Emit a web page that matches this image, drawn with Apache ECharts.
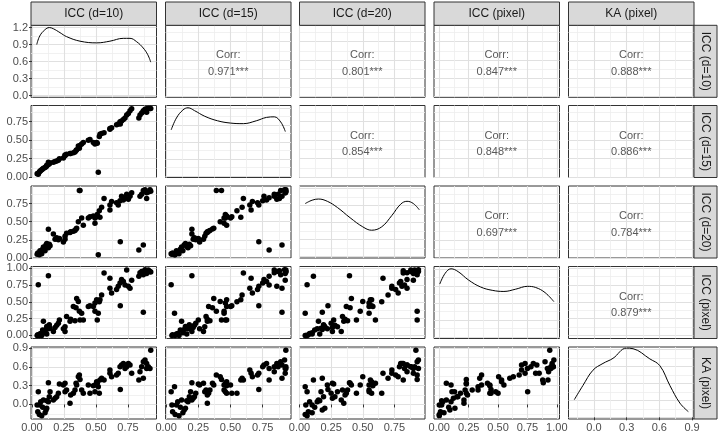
<!DOCTYPE html>
<html><head><meta charset="utf-8">
<script src="https://cdn.jsdelivr.net/npm/echarts@6/dist/echarts.min.js"></script>
<style>html,body{margin:0;padding:0;background:#fff}#c{width:719px;height:436px}</style>
</head><body><div id="c"></div>
<script>
// ---------- data ----------
const varNames = ['ICC (d=10)', 'ICC (d=15)', 'ICC (d=20)', 'ICC (pixel)', 'KA (pixel)'];

const v1 = [0.040,0.045,0.049,0.057,0.062,0.068,0.076,0.083,0.089,0.102,
  0.109,0.115,0.115,0.128,0.128,0.135,0.141,0.167,0.180,0.193,
  0.206,0.214,0.245,0.258,0.258,0.270,0.297,0.302,0.323,0.336,
  0.344,0.349,0.362,0.370,0.375,0.388,0.401,0.440,0.453,0.479,
  0.492,0.492,0.518,0.505,0.510,0.526,0.563,0.531,0.544,0.609,
  0.609,0.622,0.690,0.661,0.674,0.688,0.700,0.714,0.727,0.740,
  0.753,0.766,0.779,0.835,0.844,0.857,0.870,0.870,0.883,0.896,
  0.896,0.909,0.922,0.928];
const v2 = [0.045,0.050,0.039,0.070,0.080,0.090,0.100,0.110,0.120,0.130,
  0.140,0.150,0.160,0.200,0.170,0.180,0.190,0.200,0.210,0.220,
  0.230,0.250,0.260,0.290,0.300,0.310,0.320,0.320,0.330,0.340,
  0.360,0.370,0.420,0.390,0.430,0.450,0.470,0.500,0.510,0.470,
  0.460,0.450,0.065,0.470,0.460,0.550,0.600,0.580,0.590,0.660,
  0.650,0.670,0.720,0.710,0.720,0.750,0.760,0.780,0.800,0.840,
  0.860,0.900,0.925,0.800,0.840,0.870,0.900,0.890,0.920,0.880,
  0.925,0.930,0.930,0.930];
const v3 = [0.050,0.070,0.060,0.045,0.100,0.080,0.060,0.120,0.150,0.100,
  0.180,0.200,0.160,0.395,0.140,0.190,0.170,0.330,0.260,0.280,
  0.250,0.270,0.220,0.260,0.300,0.340,0.350,0.360,0.370,0.380,
  0.400,0.410,0.500,0.930,0.930,0.550,0.450,0.550,0.570,0.580,
  0.550,0.480,0.045,0.570,0.600,0.650,0.820,0.560,0.700,0.660,
  0.730,0.780,0.225,0.760,0.730,0.790,0.850,0.800,0.830,0.880,
  0.810,0.850,0.900,0.110,0.850,0.880,0.180,0.930,0.940,0.820,
  0.900,0.910,0.940,0.920];
const v4 = [0.000,0.010,0.752,0.000,0.020,0.030,0.000,0.080,0.210,0.040,
  0.090,0.133,0.020,0.885,0.100,0.158,0.108,0.060,0.120,0.150,
  0.180,0.230,0.100,0.060,0.130,0.280,0.210,0.240,0.430,0.220,
  0.410,0.550,0.505,0.360,0.230,0.330,0.230,0.430,0.440,0.430,
  0.480,0.360,0.330,0.530,0.230,0.500,0.925,0.530,0.600,0.850,
  0.700,0.630,0.440,0.680,0.730,0.780,0.830,0.800,0.750,0.970,
  0.730,0.700,0.820,0.880,0.930,0.950,0.344,0.900,0.975,0.960,
  0.920,0.970,0.950,0.940];
const v5 = [-0.009,-0.116,0.204,-0.160,-0.009,0.044,-0.180,-0.047,0.070,-0.132,
  -0.089,-0.062,0.060,0.347,0.044,0.124,0.204,0.070,0.097,0.124,
  0.177,0.326,0.310,0.337,0.204,0.230,0.017,0.150,0.177,0.230,
  0.337,0.310,0.443,0.470,0.400,0.230,0.177,0.310,0.177,0.300,
  0.204,0.310,0.284,0.363,0.337,0.177,0.390,0.390,0.417,0.497,
  0.550,0.443,0.240,0.470,0.497,0.603,0.630,0.656,0.576,0.603,
  0.656,0.630,0.497,0.390,0.523,0.603,0.417,0.683,0.710,0.656,
  0.576,0.603,0.576,0.866];

// density curves on the diagonal
const dens1X = [0.037,0.06,0.10,0.135,0.166,0.219,0.27,0.375,0.505,0.609,0.713,0.766,0.818,0.869,0.905,0.928];
const dens1Y = [0.90,1.05,1.16,1.20,1.18,1.11,1.04,0.96,0.93,0.96,1.01,1.01,0.95,0.84,0.72,0.59];
const dens2X = [0.039,0.08,0.13,0.17,0.22,0.30,0.40,0.50,0.60,0.70,0.78,0.84,0.89,0.926];
const dens2Y = [0.81,1.02,1.16,1.20,1.15,1.05,0.97,0.93,0.92,0.97,1.03,1.04,0.95,0.78];
const dens3X = [0.045,0.10,0.15,0.22,0.30,0.40,0.50,0.57,0.65,0.73,0.80,0.85,0.90,0.947];
const dens3Y = [0.93,0.99,1.01,0.97,0.86,0.68,0.52,0.46,0.52,0.72,0.92,0.97,0.93,0.82];
const dens4X = [0.004,0.05,0.10,0.16,0.25,0.35,0.45,0.55,0.65,0.75,0.82,0.90,0.975];
const dens4Y = [0.93,1.12,1.20,1.15,1.00,0.88,0.82,0.80,0.84,0.89,0.87,0.78,0.62];
const dens5X = [-0.18,-0.101,-0.009,0.083,0.175,0.298,0.359,0.513,0.605,0.697,0.789,0.866];
const dens5Y = [0.31,0.56,0.83,0.95,1.04,1.22,1.21,1.03,0.91,0.56,0.25,0.10];

// correlation labels (upper triangle, by row)
const corrRow1 = ['0.971***', '0.801***', '0.847***', '0.888***'];
const corrRow2 = ['0.854***', '0.848***', '0.886***'];
const corrRow3 = ['0.697***', '0.784***'];
const corrRow4 = ['0.879***'];

// tick labels (breaks) per variable and for the density scale
const ticksV1 = [0, 0.25, 0.5, 0.75];
const ticksV2 = [0, 0.25, 0.5, 0.75];
const ticksV3 = [0, 0.25, 0.5, 0.75];
const ticksV4 = [0, 0.25, 0.5, 0.75, 1];
const ticksV5 = [0, 0.3, 0.6, 0.9];
const ticksDens = [0, 0.3, 0.6, 0.9, 1.2];

// ---------- layout / scales ----------
const vars = [v1, v2, v3, v4, v5];
const dens = [[dens1X, dens1Y], [dens2X, dens2Y], [dens3X, dens3Y], [dens4X, dens4Y], [dens5X, dens5Y]];
const corr = [corrRow1, corrRow2, corrRow3, corrRow4];
const majors = [ticksV1, ticksV2, ticksV3, ticksV4, ticksV5];
const decs = [2, 2, 2, 2, 1];
const lims = [[-0.008, 0.973], [-0.005, 0.970], [0, 0.992], [-0.045, 1.023], [-0.233, 0.918]];
const densLim = [-0.03, 1.24];

const colLeft = [31, 165.5, 299.5, 434, 568.5], panelW = 125.5;
const rowTop = [25.3, 105.5, 186, 266.5, 347], panelH = 72;
const FONT = '"Liberation Sans", Arial, Helvetica, sans-serif';

function minorsOf(maj, lim) {
  const step = maj[1] - maj[0], out = [];
  for (let k = -1; k < maj.length; k++) {
    const m = maj[0] + step * (k + 0.5);
    if (m > lim[0] && m < lim[1]) out.push(+m.toFixed(4));
  }
  return out;
}
function makeAxis(gi, lim, values, pos, showLab, dec, major) {
  return {
    gridIndex: gi, type: 'value', position: pos, min: lim[0], max: lim[1],
    axisLine: { show: false },
    axisTick: { show: showLab, customValues: values, length: 3, lineStyle: { color: '#333333', width: 1 } },
    axisLabel: { show: showLab, customValues: values, formatter: v => (+v).toFixed(dec),
      color: '#4d4d4d', fontSize: 11, fontFamily: FONT, margin: 3 },
    splitLine: { show: true, lineStyle: { color: major ? '#e0e0e0' : '#eeeeee', width: major ? 1.1 : 0.8 } },
    splitArea: { show: false }
  };
}

const grid = [], xAxis = [], yAxis = [], series = [], graphic = [];
for (let r = 0; r < 5; r++) {
  for (let c = 0; c < 5; c++) {
    const gi = grid.length;
    grid.push({ left: colLeft[c], top: rowTop[r], width: panelW, height: panelH,
      show: true, borderColor: '#333333', borderWidth: 1, backgroundColor: 'transparent' });
    const xl = lims[c];
    const diag = r === c;
    const yl = diag ? densLim : lims[r];
    const yMaj = diag ? ticksDens : majors[r];
    const yDec = diag ? 1 : decs[r];
    const xi = xAxis.length, yi = yAxis.length;
    xAxis.push(makeAxis(gi, xl, majors[c], 'bottom', r === 4, decs[c], true));
    xAxis.push(makeAxis(gi, xl, minorsOf(majors[c], xl), 'bottom', false, 2, false));
    yAxis.push(makeAxis(gi, yl, yMaj, 'left', c === 0, yDec, true));
    yAxis.push(makeAxis(gi, yl, minorsOf(yMaj, yl), 'left', false, 2, false));
    if (r > c) {
      series.push({ type: 'scatter', xAxisIndex: xi, yAxisIndex: yi,
        data: vars[c].map((x, i) => [x, vars[r][i]]),
        symbolSize: 5.5, itemStyle: { color: '#000000', opacity: 1 }, silent: true, z: 3 });
    } else if (diag) {
      const [dx, dy] = dens[r];
      series.push({ type: 'line', xAxisIndex: xi, yAxisIndex: yi,
        data: dx.map((x, i) => [x, dy[i]]), showSymbol: false, smooth: 0.4,
        lineStyle: { color: '#000000', width: 1 }, silent: true, z: 3 });
    } else {
      const cx = colLeft[c] + panelW / 2, cy = rowTop[r] + panelH / 2;
      graphic.push({ type: 'text', z: 10, style: { text: 'Corr:', x: cx, y: cy - 6, align: 'center', verticalAlign: 'middle',
        fill: '#595959', fontSize: 11, fontFamily: FONT } });
      graphic.push({ type: 'text', z: 10, style: { text: corr[r][c - r - 1], x: cx, y: cy + 10.5, align: 'center', verticalAlign: 'middle',
        fill: '#595959', fontSize: 11, fontFamily: FONT } });
    }
  }
}
// strips
for (let c = 0; c < 5; c++) {
  graphic.push({ type: 'rect', z: 5, shape: { x: colLeft[c], y: 2, width: panelW, height: rowTop[0] - 2 },
    style: { fill: '#d9d9d9', stroke: '#333333', lineWidth: 1 } });
  graphic.push({ type: 'text', z: 6, style: { text: varNames[c], x: colLeft[c] + panelW / 2, y: (2 + rowTop[0]) / 2 + 0.5,
    align: 'center', verticalAlign: 'middle', fill: '#1a1a1a', fontSize: 12, fontFamily: FONT } });
}
for (let r = 0; r < 5; r++) {
  graphic.push({ type: 'rect', z: 5, shape: { x: colLeft[4] + panelW, y: rowTop[r], width: 23, height: panelH },
    style: { fill: '#d9d9d9', stroke: '#333333', lineWidth: 1 } });
  graphic.push({ type: 'text', z: 6, x: colLeft[4] + panelW + 11.5, y: rowTop[r] + panelH / 2, rotation: -Math.PI / 2,
    style: { text: varNames[r], x: 0, y: 0, align: 'center', verticalAlign: 'middle', fill: '#1a1a1a', fontSize: 12, fontFamily: FONT } });
}

const chart = echarts.init(document.getElementById('c'), null, { renderer: 'canvas' });
chart.setOption({ animation: false, backgroundColor: '#ffffff', grid, xAxis, yAxis, series, graphic });
</script>
</body></html>
